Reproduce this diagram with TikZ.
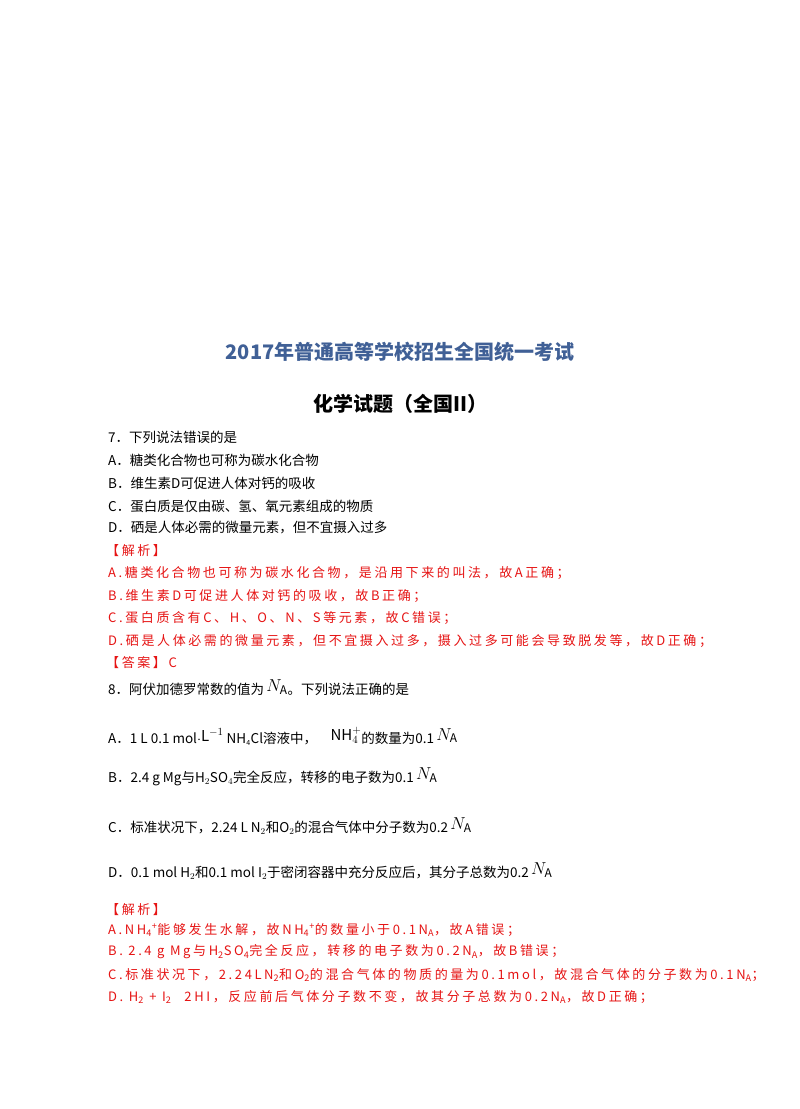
\documentclass[tikz,border=0pt]{standalone}
\usepackage{fontspec}
\setmainfont{Noto Sans CJK SC}
\newfontfamily\redf{Noto Sans CJK SC}[LetterSpace=20]
\definecolor{tblue}{RGB}{64,96,150}
\definecolor{ared}{RGB}{230,20,20}
\newcommand{\NA}{\,\raisebox{3pt}{\fontsize{17}{17}\selectfont$N_{\mathrm A}$}}
\begin{document}
\begin{tikzpicture}[x=1pt,y=1pt,
  line/.style={anchor=west,inner sep=0pt,font=\fontsize{13.5}{15}\selectfont},
  redline/.style={anchor=west,inner sep=0pt,text=ared,font=\redf\fontsize{13}{14}\selectfont}]
\useasboundingbox[fill=white] (0,0) rectangle (800,-1109);
\node[font=\fontsize{20}{24}\selectfont\bfseries,text=tblue] (t1) at (400,-352) {2017年普通高等学校招生全国统一考试};
\node[font=\fontsize{20}{24}\selectfont\bfseries] (t2) at (400,-404) {化学试题（全国II）};
\node[line] (q7) at (108,-437) {7．下列说法错误的是};
\node[line] (q7a) at (108,-460) {A．糖类化合物也可称为碳水化合物};
\node[line] (q7b) at (108,-483) {B．维生素D可促进人体对钙的吸收};
\node[line] (q7c) at (108,-506) {C．蛋白质是仅由碳、氢、氧元素组成的物质};
\node[line] (q7d) at (108,-528) {D．硒是人体必需的微量元素，但不宜摄入过多};
\node[redline] (j7) at (106,-551) {【解析】};
\node[redline] (r7a) at (108,-573) {A.糖类化合物也可称为碳水化合物，是沿用下来的叫法，故A正确；};
\node[redline] (r7b) at (108,-596) {B.维生素D可促进人体对钙的吸收，故B正确；};
\node[redline] (r7c) at (108,-618) {C.蛋白质含有C、H、O、N、S等元素，故C错误；};
\node[redline] (r7d) at (108,-641) {D.硒是人体必需的微量元素，但不宜摄入过多，摄入过多可能会导致脱发等，故D正确；};
\node[redline] (a7) at (106,-663) {【答案】C};
\node[line] (q8) at (108,-688) {8．阿伏加德罗常数的值为\NA。下列说法正确的是};
\node[line] (q8a) at (108,-736) {A．1 L 0.1 mol$\cdot$\raisebox{2pt}{\fontsize{15}{15}\selectfont$\mathrm{L}^{-1}$} NH\textsubscript{\scriptsize 4}Cl溶液中，\quad\raisebox{3pt}{\fontsize{15}{15}\selectfont$\mathrm{NH}_4^+$}的数量为0.1\NA};
\node[line] (q8b) at (108,-777) {B．2.4 g Mg与H$_2$SO$_4$完全反应，转移的电子数为0.1\NA};
\node[line] (q8c) at (108,-826) {C．标准状况下，2.24 L N$_2$和O$_2$的混合气体中分子数为0.2\NA};
\node[line] (q8d) at (108,-871) {D．0.1 mol H$_2$和0.1 mol I$_2$于密闭容器中充分反应后，其分子总数为0.2\NA};
\node[redline] (j8) at (106,-910) {【解析】};
\node[redline] (r8a) at (108,-930) {A.NH\textsubscript{4}\textsuperscript{+}能够发生水解，故NH\textsubscript{4}\textsuperscript{+}的数量小于0.1N\textsubscript{A}，故A错误；};
\node[redline] (r8b) at (108,-952) {B. 2.4 g Mg与H\textsubscript{2}SO\textsubscript{4}完全反应，转移的电子数为0.2N\textsubscript{A}，故B错误；};
\node[redline] (r8c) at (108,-975) {C.标准状况下，2.24LN\textsubscript{2}和O\textsubscript{2}的混合气体的物质的量为0.1mol，故混合气体的分子数为0.1N\textsubscript{A}；};
\node[redline] (r8d) at (108,-997) {D. H\textsubscript{2} + I\textsubscript{2}\quad 2HI，反应前后气体分子数不变，故其分子总数为0.2N\textsubscript{A}，故D正确；};
\end{tikzpicture}
\end{document}
